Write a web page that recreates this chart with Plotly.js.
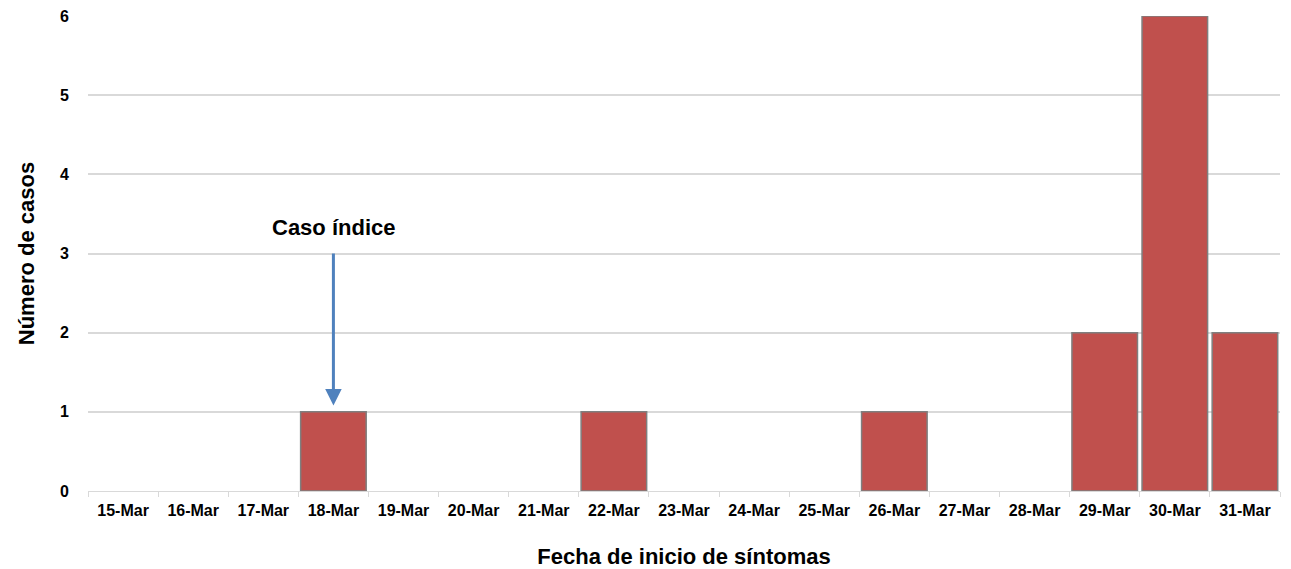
<!DOCTYPE html>
<html>
<head>
<meta charset="utf-8">
<script src="https://cdn.plot.ly/plotly-3.0.1.min.js"></script>
<style>html,body{margin:0;padding:0;background:#fff;}#chart{width:1291px;height:569px;}</style>
</head>
<body>
<div id="chart"></div>
<script>
const dates = ["15-Mar","16-Mar","17-Mar","18-Mar","19-Mar","20-Mar","21-Mar","22-Mar","23-Mar","24-Mar","25-Mar","26-Mar","27-Mar","28-Mar","29-Mar","30-Mar","31-Mar"];
const cases = [0,0,0,1,0,0,0,1,0,0,0,1,0,0,2,6,2];
const yTicks = [0,1,2,3,4,5,6];
const indexCaseDate = "18-Mar";
const indexCaseLabel = "Caso índice";

const font = {family: "Liberation Sans, Arial, sans-serif", color: "#000"};

const trace = {
  type: "bar",
  x: dates,
  y: cases,
  marker: {color: "#C0504D", line: {color: "#7F7F7F", width: cases.map(v => v > 0 ? 1.5 : 0)}},
  hoverinfo: "x+y"
};

const layout = {
  width: 1291, height: 569,
  margin: {l: 88, r: 11, t: 16, b: 78},
  paper_bgcolor: "#fff", plot_bgcolor: "#fff",
  showlegend: false,
  bargap: 0.065,
  font: font,
  xaxis: {
    type: "category",
    tickson: "boundaries",
    ticks: "outside", ticklen: 5, tickwidth: 1, tickcolor: "#D9D9D9",
    showgrid: false,
    showline: true, linecolor: "#D9D9D9", linewidth: 1,
    tickfont: {family: font.family, size: 16, color: "#000", weight: "bold"},
    ticklabelstandoff: 5,
    title: {text: "Fecha de inicio de síntomas", font: {family: font.family, size: 22, color: "#000", weight: "bold"}},
    automargin: false
  },
  yaxis: {
    range: [0, 6],
    tickvals: yTicks,
    showgrid: true, gridcolor: "#D9D9D9", gridwidth: 2,
    zeroline: false,
    showline: false,
    tickfont: {family: font.family, size: 16, color: "#000", weight: "bold"},
    ticklabelstandoff: 18,
    title: {text: "Número de casos", font: {family: font.family, size: 22, color: "#000", weight: "bold"}},
    automargin: false
  },
  annotations: [
    {
      x: indexCaseDate, y: 1.08, xref: "x", yref: "y",
      ax: indexCaseDate, ay: 3.02, axref: "x", ayref: "y",
      text: "", showarrow: true,
      arrowhead: 2, arrowsize: 1.1, arrowwidth: 3, arrowcolor: "#4F81BD"
    },
    {
      x: indexCaseDate, y: 3.33, xref: "x", yref: "y",
      text: indexCaseLabel, showarrow: false,
      font: {family: font.family, size: 22, color: "#000", weight: "bold"}
    }
  ]
};

Plotly.newPlot("chart", [trace], layout, {displayModeBar: false, staticPlot: true});
</script>
</body>
</html>
